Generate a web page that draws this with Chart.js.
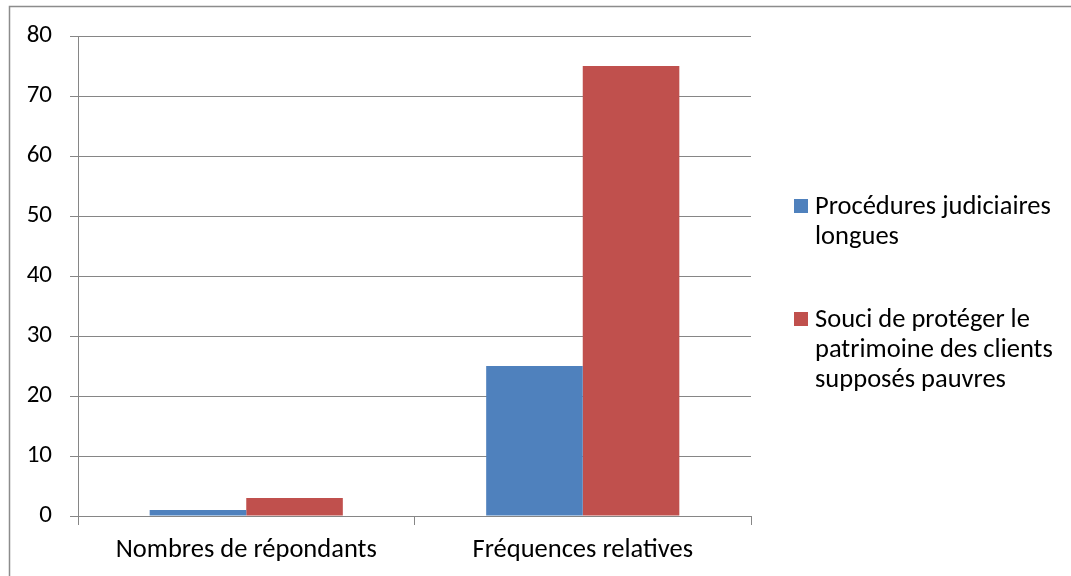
<!DOCTYPE html>
<html>
<head>
<meta charset="utf-8">
<script src="https://cdn.jsdelivr.net/npm/chart.js@4"></script>
<style>
  html, body { margin: 0; padding: 0; background: #ffffff; }
  #wrap { position: relative; width: 1071px; height: 576px; }
</style>
</head>
<body>
<div id="wrap"><canvas id="c" width="1071" height="576"></canvas></div>
<script>
// Categories along the x axis
const categories = ["Nombres de répondants", "Fréquences relatives"];

// Series names, split into the lines shown in the legend
const seriesNames = [
  ["Procédures judiciaires", "longues"],
  ["Souci de protéger le", "patrimoine des clients", "supposés pauvres"]
];

// Values per series
const procedures = [1, 25];
const souci = [3, 75];

// Y axis ticks
const yTicks = [0, 10, 20, 30, 40, 50, 60, 70, 80];

const colors = ["#4F81BD", "#C0504D"];
const FONT = "Carlito, Lato, 'Liberation Sans', sans-serif";
const AXIS_GREY = "#868686";

// Outer frame around the chart
const framePlugin = {
  id: "frame",
  beforeDraw(chart) {
    const ctx = chart.ctx;
    ctx.save();
    ctx.fillStyle = "#ffffff";
    ctx.fillRect(0, 0, chart.width, chart.height);
    ctx.strokeStyle = "#8c8c8c";
    ctx.lineWidth = 1.5;
    ctx.strokeRect(9.5, 6.5, chart.width + 50, chart.height + 50);
    ctx.restore();
  }
};

// Legend on the right with wrapped labels
const sideLegend = {
  id: "sideLegend",
  afterDraw(chart) {
    const ctx = chart.ctx;
    const x0 = 794, box = 14, textX = 815, lineH = 30;
    const starts = [206, 319];
    ctx.save();
    ctx.font = "26.5px " + FONT;
    ctx.textBaseline = "middle";
    ctx.textAlign = "left";
    chart.data.datasets.forEach((ds, i) => {
      const cy = starts[i];
      ctx.fillStyle = ds.backgroundColor;
      ctx.fillRect(x0, cy - box / 2, box, box);
      ctx.fillStyle = "#000000";
      ds.lines.forEach((line, k) => {
        ctx.fillText(line, textX, cy + 1 + k * lineH);
      });
    });
    ctx.restore();
  }
};

new Chart(document.getElementById("c"), {
  type: "bar",
  data: {
    labels: categories,
    datasets: [
      { label: seriesNames[0].join(" "), lines: seriesNames[0], data: procedures,
        backgroundColor: colors[0], borderWidth: 0 },
      { label: seriesNames[1].join(" "), lines: seriesNames[1], data: souci,
        backgroundColor: colors[1], borderWidth: 0 }
    ]
  },
  options: {
    responsive: false,
    animation: false,
    devicePixelRatio: 1,
    layout: { padding: { left: 0, top: 36, right: 320, bottom: 0 } },
    datasets: { bar: { barPercentage: 1.0, categoryPercentage: 0.574 } },
    plugins: {
      legend: { display: false },
      tooltip: { enabled: false }
    },
    scales: {
      x: {
        offset: true,
        grid: {
          offset: true,
          drawOnChartArea: false,
          drawTicks: true,
          tickLength: 9,
          color: AXIS_GREY,
          lineWidth: 1
        },
        border: { color: AXIS_GREY, width: 1 },
        ticks: {
          color: "#000000",
          font: { family: FONT, size: 26.5 },
          padding: 9,
          maxRotation: 0
        },
        afterFit(scale) { scale.height = 60; }
      },
      y: {
        min: 0,
        max: 80,
        afterBuildTicks(scale) { scale.ticks = yTicks.map(v => ({ value: v })); },
        grid: {
          color: AXIS_GREY,
          lineWidth: 1,
          drawTicks: true,
          tickLength: 8
        },
        border: { color: AXIS_GREY, width: 1 },
        ticks: {
          color: "#000000",
          font: { family: FONT, size: 25 },
          padding: 18
        },
        afterFit(scale) { scale.width = 78; }
      }
    }
  },
  plugins: [framePlugin, sideLegend]
});
</script>
</body>
</html>
